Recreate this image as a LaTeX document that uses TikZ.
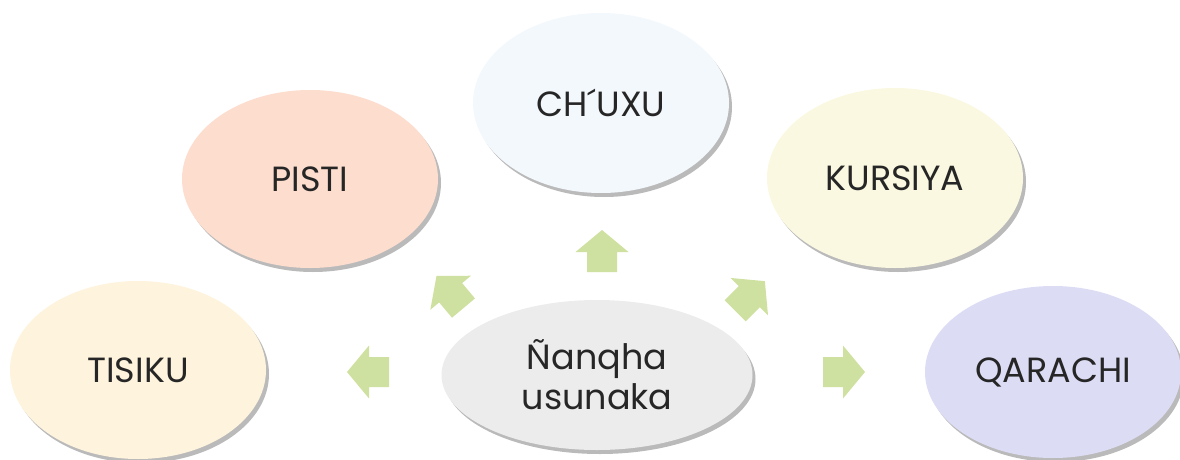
\documentclass[tikz,border=0pt]{standalone}
\usepackage{fontspec}
\setmainfont{Poppins}
\usepackage{tikz}
\usetikzlibrary{shapes.geometric,shadows}

\definecolor{cTisiku}{HTML}{FEF3DC}
\definecolor{cPisti}{HTML}{FCDDCE}
\definecolor{cChuxu}{HTML}{F3F8FC}
\definecolor{cKursiya}{HTML}{FAF8E0}
\definecolor{cQarachi}{HTML}{DCDDF5}
\definecolor{cCentre}{HTML}{EBECEB}
\definecolor{cArrow}{HTML}{CFE1A0}

\tikzset{
  bubble/.style={ellipse, minimum width=256pt, minimum height=178pt, inner sep=0pt,
    font=\fontsize{35}{40}\selectfont, text=black!85,
    drop shadow={shadow xshift=3pt, shadow yshift=-4pt, opacity=0.45, fill=black!60}},
}

% block arrow: x, y, angle
\newcommand{\blockarrow}[3]{%
  \fill[cArrow, shift={(#1,#2)}, rotate=#3]
    (-21,-15) -- (-1,-15) -- (-1,-26.5) -- (21,0) -- (-1,26.5) -- (-1,15) -- (-21,15) -- cycle;
}

\begin{document}
\begin{tikzpicture}[x=1pt,y=1pt]

\useasboundingbox (0,0) rectangle (1180,459);

\node[bubble, fill=cTisiku] (tisiku) at (138, 89) {TISIKU};
\node[bubble, fill=cPisti] (pisti) at (310, 280) {PISTI};
\node[bubble, fill=cChuxu, minimum height=180pt] (chuxu) at (601, 356) {CH´UXU};
\node[bubble, fill=cKursiya, minimum height=180pt] (kursiya) at (895, 281) {KURSIYA};
\node[bubble, fill=cQarachi, minimum height=172pt] (qarachi) at (1053, 87) {QARACHI};

%Centre
\node[bubble, fill=cCentre, minimum width=311pt, minimum height=150pt, align=center] (centre) at (597, 84) {Ñanqha\\usunaka};

%Arrows
\blockarrow{368}{87}{180}
\blockarrow{450}{167}{130}
\blockarrow{602}{208}{90}
\blockarrow{750}{163}{45}
\blockarrow{844}{87}{0}

\end{tikzpicture}
\end{document}
